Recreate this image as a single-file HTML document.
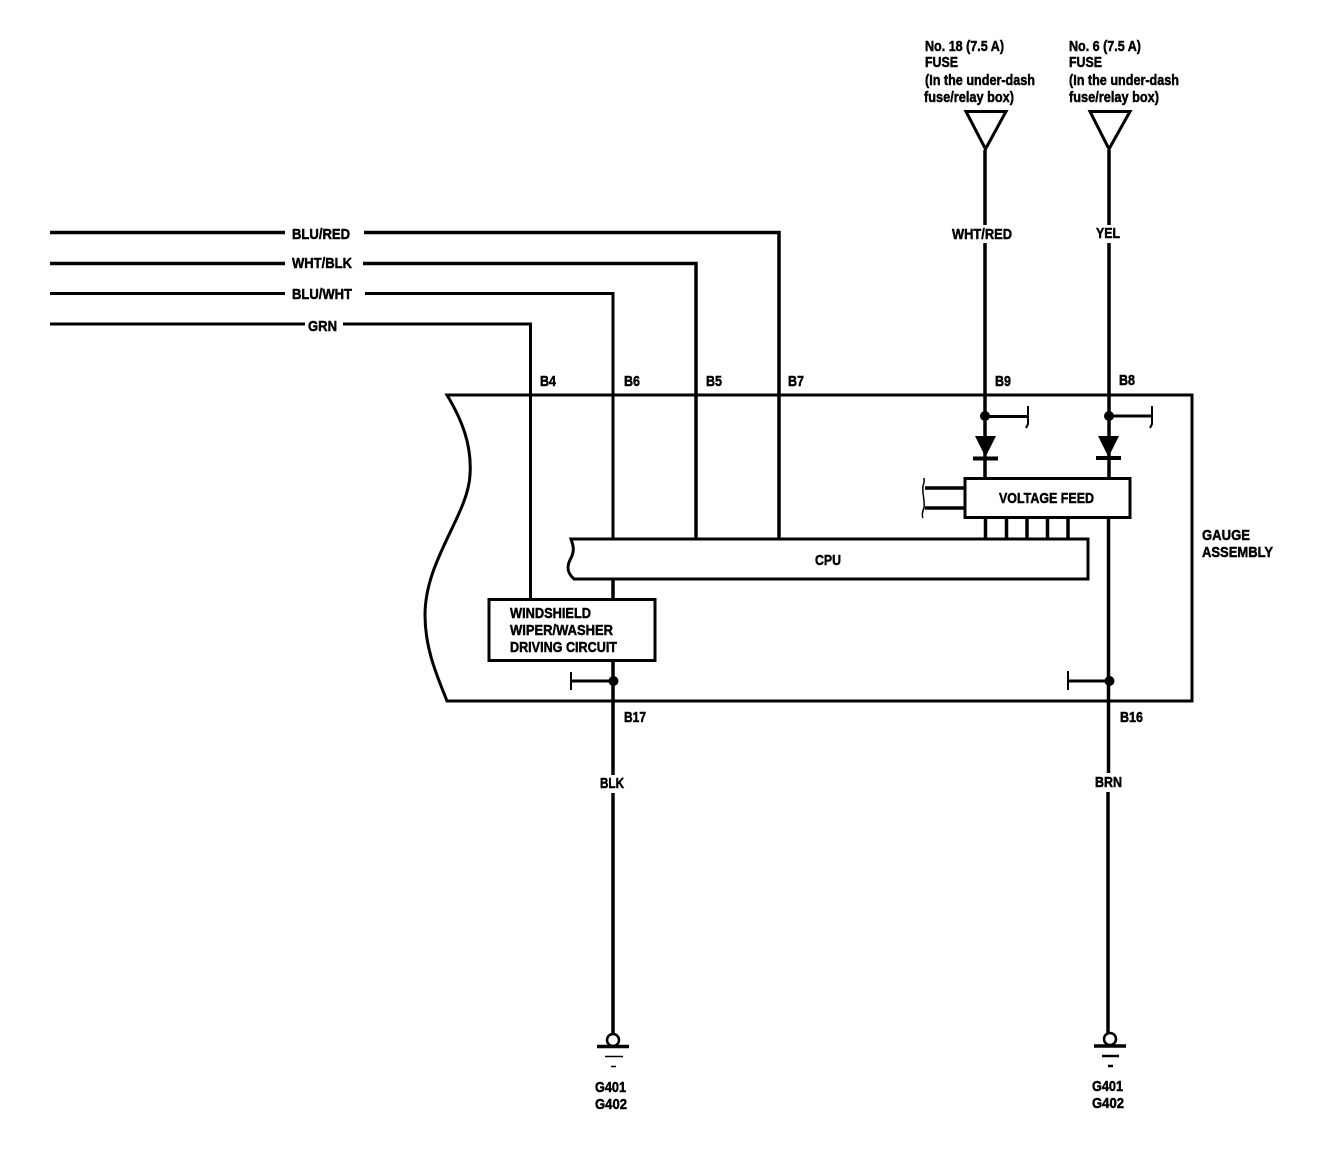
<!DOCTYPE html>
<html><head><meta charset="utf-8"><style>
html,body{margin:0;padding:0;background:#fff}
svg{display:block}
text{font-family:"Liberation Sans",sans-serif;font-weight:bold;font-size:15px;fill:#000;stroke:#000;stroke-width:.5}
</style></head><body>
<svg width="1328" height="1176" viewBox="0 0 1328 1176" xmlns="http://www.w3.org/2000/svg">
<g fill="none" stroke="#000" stroke-width="3">
<!-- horizontal wires -->
<path d="M50 232.5H285M364 232.5H779V539" stroke-width="3.5"/>
<path d="M50 263.5H285M363 263.5H696V539" stroke-width="3.5"/>
<path d="M50 293.5H285M365 293.5H613V539" stroke-width="3"/>
<path d="M50 324H305M343 324H530.5V600" stroke-width="3"/>
<!-- assembly -->
<path d="M447 395H1192V701H447C438 678 425 650 425 615C425 560 468 515 470 475C472 445 462 420 447 395Z"/>
<!-- CPU -->
<path d="M571 539H1088V579H574C566 572 567 565 571 558C575 550 573 545 571 539Z" fill="#fff"/>
<!-- Wiper box -->
<rect x="489" y="599.5" width="166" height="61" fill="#fff"/>
<!-- left vertical lower -->
<path d="M613 579V599M613 661V775M613 793V1034" stroke-width="3.5"/>
<!-- right wires -->
<path d="M985 150V225M985 243V478" stroke-width="3.5"/>
<path d="M1109 150V225M1109 243V478M1108.5 517V773M1108 792V1034" stroke-width="3.5"/>
<!-- fuse triangles -->
<path d="M966 111.5H1006L985.5 149ZM1090 111.5H1130L1109 149Z"/>
<!-- voltage feed -->
<rect x="965" y="478.5" width="165" height="39" fill="#fff"/>
<path d="M985.5 517V539M1006.5 517V539M1027 517V539M1047.5 517V539M1068 517V539" stroke-width="3.5"/>
<path d="M925 488H965M925 508H965" stroke-width="3.5"/>
<path d="M924 478C925 484 922 486 923 488C922 492 925 500 924 508C922 512 922 516 923 518" stroke-width="1.5"/>
<!-- stubs -->
<path d="M985 416.5H1028M1109 416H1152M571 681H613M1068 681H1109"/>
<path d="M1028 406V424L1026 428M1152 406V424L1150 428M571 672V690M1068 671V690" stroke-width="2"/>
<!-- diode bars -->
<path d="M973 458.5H998M1096 458H1121" stroke-width="4"/>
<!-- grounds -->
<circle cx="613" cy="1040" r="6" stroke-width="2.5"/>
<circle cx="1110" cy="1039" r="6" stroke-width="2.5"/>
<path d="M597 1046.5H629M1094 1046H1126" stroke-width="3.5"/>
<path d="M605 1056.5H623" stroke-width="1.5"/>
<path d="M1102 1056H1119" stroke-width="2.5"/>
<path d="M611 1066.5H616" stroke-width="1.5"/>
<path d="M1108 1066H1113" stroke-width="2.5"/>
</g>
<circle cx="985" cy="416" r="5"/><circle cx="1109" cy="416" r="5"/>
<circle cx="613.5" cy="681" r="5"/><circle cx="1109.5" cy="681" r="5"/>
<path d="M975 436H996L985.5 457Z"/><path d="M1098 436H1119L1108.5 457Z"/>

<g transform="translate(0,-1)">
<text x="925" y="52" textLength="79" lengthAdjust="spacingAndGlyphs">No. 18 (7.5 A)</text>
<text x="925" y="68" textLength="33" lengthAdjust="spacingAndGlyphs">FUSE</text>
<text x="925" y="86" textLength="110" lengthAdjust="spacingAndGlyphs">(In the under-dash</text>
<text x="924" y="103" textLength="90" lengthAdjust="spacingAndGlyphs">fuse/relay box)</text>
<text x="1069" y="52" textLength="72" lengthAdjust="spacingAndGlyphs">No. 6 (7.5 A)</text>
<text x="1069" y="68" textLength="33" lengthAdjust="spacingAndGlyphs">FUSE</text>
<text x="1069" y="86" textLength="110" lengthAdjust="spacingAndGlyphs">(In the under-dash</text>
<text x="1069" y="103" textLength="90" lengthAdjust="spacingAndGlyphs">fuse/relay box)</text>

<text x="292" y="240" textLength="58" lengthAdjust="spacingAndGlyphs">BLU/RED</text>
<text x="292" y="269" textLength="60" lengthAdjust="spacingAndGlyphs">WHT/BLK</text>
<text x="292" y="300" textLength="60" lengthAdjust="spacingAndGlyphs">BLU/WHT</text>
<text x="308" y="332" textLength="29" lengthAdjust="spacingAndGlyphs">GRN</text>
<text x="952" y="240" textLength="60" lengthAdjust="spacingAndGlyphs">WHT/RED</text>
<text x="1096" y="239" textLength="24" lengthAdjust="spacingAndGlyphs">YEL</text>

<text x="540" y="387" textLength="16" lengthAdjust="spacingAndGlyphs">B4</text>
<text x="624" y="387" textLength="16" lengthAdjust="spacingAndGlyphs">B6</text>
<text x="706" y="387" textLength="16" lengthAdjust="spacingAndGlyphs">B5</text>
<text x="788" y="387" textLength="16" lengthAdjust="spacingAndGlyphs">B7</text>
<text x="995" y="387" textLength="16" lengthAdjust="spacingAndGlyphs">B9</text>
<text x="1119" y="386" textLength="16" lengthAdjust="spacingAndGlyphs">B8</text>
<text x="999" y="504" textLength="95" lengthAdjust="spacingAndGlyphs">VOLTAGE FEED</text>
<text x="815" y="566" textLength="26" lengthAdjust="spacingAndGlyphs">CPU</text>
<text x="510" y="619" textLength="81" lengthAdjust="spacingAndGlyphs">WINDSHIELD</text>
<text x="510" y="636" textLength="103" lengthAdjust="spacingAndGlyphs">WIPER/WASHER</text>
<text x="510" y="653" textLength="107" lengthAdjust="spacingAndGlyphs">DRIVING CIRCUIT</text>
<text x="1202" y="541" textLength="48" lengthAdjust="spacingAndGlyphs">GAUGE</text>
<text x="1202" y="558" textLength="71" lengthAdjust="spacingAndGlyphs">ASSEMBLY</text>
<text x="624" y="723" textLength="22" lengthAdjust="spacingAndGlyphs">B17</text>
<text x="1120" y="723" textLength="23" lengthAdjust="spacingAndGlyphs">B16</text>
<text x="600" y="789" textLength="24" lengthAdjust="spacingAndGlyphs">BLK</text>
<text x="1095" y="788" textLength="27" lengthAdjust="spacingAndGlyphs">BRN</text>
<text x="595" y="1093" textLength="31" lengthAdjust="spacingAndGlyphs">G401</text>
<text x="595" y="1110" textLength="32" lengthAdjust="spacingAndGlyphs">G402</text>
<text x="1092" y="1092" textLength="31" lengthAdjust="spacingAndGlyphs">G401</text>
<text x="1092" y="1109" textLength="32" lengthAdjust="spacingAndGlyphs">G402</text>
</g>
</svg>
</body></html>
